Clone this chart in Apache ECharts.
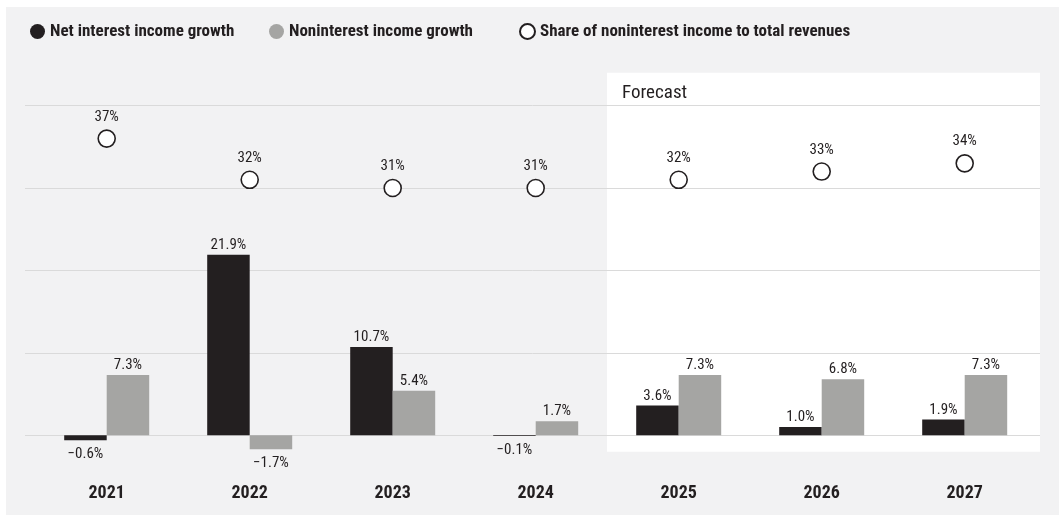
<!DOCTYPE html>
<html>
<head>
<meta charset="utf-8">
<script src="https://cdn.jsdelivr.net/npm/echarts@6/dist/echarts.min.js"></script>
<style>
html,body{margin:0;padding:0;background:#ffffff;}
#c{width:1059px;height:515px;}
</style>
</head>
<body>
<div id="c"></div>
<script>
var years = ['2021','2022','2023','2024','2025','2026','2027'];
var netInterest = [-0.6, 21.9, 10.7, -0.1, 3.6, 1.0, 1.9];
var nonInterest = [7.3, -1.7, 5.4, 1.7, 7.3, 6.8, 7.3];
var shareNonInterest = [37, 32, 31, 31, 32, 33, 34];
var gridValues = [0, 10, 20, 30, 40];
var forecastStart = 4; // index of 2025

var NARROW = '"Roboto Condensed", Roboto, sans-serif';

function pct(v){
  var s = Math.abs(v).toFixed(1) + '%';
  return v < 0 ? '\u2212' + s : s;
}

var chart = echarts.init(document.getElementById('c'), null, {renderer:'canvas'});

var barLabel = {
  show: true,
  fontFamily: NARROW,
  fontSize: 15,
  color: '#231f20',
  distance: 2,
  formatter: function(p){ return pct(p.value); }
};

function barData(arr){
  return arr.map(function(v){
    return {value: v, label: v < 0 ? {position: 'bottom', distance: 7} : {position: 'top', distance: 2}};
  });
}

var legendText = {fontFamily: NARROW, fontWeight: 'bold', fontSize: 17, color: '#231f20'};

var option = {
  animation: false,
  backgroundColor: '#ffffff',
  graphic: [{
    type: 'rect', left: 6, top: 7, z: -10,
    shape: {width: 1053, height: 508},
    style: {fill: '#f2f2f3'}
  }],
  legend: [
    {data: ['Net interest income growth'], left: 25, top: 18, icon: 'circle', itemWidth: 15, itemHeight: 15, textStyle: legendText, selectedMode: false},
    {data: ['Noninterest income growth'], left: 264, top: 18, icon: 'circle', itemWidth: 15, itemHeight: 15, textStyle: legendText, selectedMode: false},
    {data: ['Share of noninterest income to total revenues'], left: 514, top: 18, icon: 'circle', itemWidth: 15, itemHeight: 15, textStyle: legendText, selectedMode: false}
  ],
  grid: [
    {left: 25, right: 19, top: 72.7, bottom: 63.3},
    {left: 35.2, right: 22.8, top: 72.7, bottom: 63.3}
  ],
  xAxis: [
    {type: 'value', gridIndex: 0, min: -0.5 - 10/143, max: years.length - 0.5 + 4/143, show: false},
    {type: 'category', gridIndex: 1, data: years,
     axisLine: {show: false}, axisTick: {show: false},
     axisLabel: {fontFamily: NARROW, fontWeight: 'bold', fontSize: 18, color: '#231f20', margin: 33}}
  ],
  yAxis: [
    {type: 'value', gridIndex: 0, min: -2, max: 44, show: false, splitLine: {show: false}},
    {type: 'value', gridIndex: 1, min: -2, max: 44, show: false, splitLine: {show: false}},
    {type: 'value', gridIndex: 1, min: -1, max: 45, show: false, splitLine: {show: false}}
  ],
  series: [
    {
      type: 'scatter', xAxisIndex: 0, yAxisIndex: 0, data: [], silent: true, zlevel: 0,
      markArea: {
        silent: true,
        itemStyle: {color: '#ffffff'},
        label: {show: true, position: 'insideTopLeft', distance: 11, offset: [4, 0], fontFamily: NARROW, fontSize: 19, color: '#231f20'},
        data: [[{name: 'Forecast', xAxis: forecastStart - 0.5, yAxis: 44}, {xAxis: years.length - 0.5 + 4/143, yAxis: -2}]]
      },
      markLine: {
        silent: true, symbol: ['none', 'none'],
        label: {show: false},
        lineStyle: {color: '#dadada', width: 1, type: 'solid'},
        data: gridValues.map(function(v){ return {yAxis: v}; })
      }
    },
    {
      name: 'Net interest income growth', type: 'bar', xAxisIndex: 1, yAxisIndex: 1, zlevel: 1,
      data: barData(netInterest), barWidth: 42.5, barGap: '0%',
      itemStyle: {color: '#231f20'}, label: barLabel
    },
    {
      name: 'Noninterest income growth', type: 'bar', xAxisIndex: 1, yAxisIndex: 1, zlevel: 1,
      data: barData(nonInterest), barWidth: 42.5, barGap: '0%',
      itemStyle: {color: '#a5a5a3'}, label: barLabel
    },
    {
      name: 'Share of noninterest income to total revenues', type: 'scatter', xAxisIndex: 1, yAxisIndex: 2, zlevel: 1,
      data: shareNonInterest, symbol: 'circle', symbolSize: 17,
      itemStyle: {color: '#ffffff', borderColor: '#231f20', borderWidth: 1.6, opacity: 1},
      label: {show: true, position: 'top', distance: 5, fontFamily: NARROW, fontSize: 15, color: '#231f20',
              formatter: function(p){ return p.value + '%'; }}
    }
  ]
};
chart.setOption(option);
</script>
</body>
</html>
